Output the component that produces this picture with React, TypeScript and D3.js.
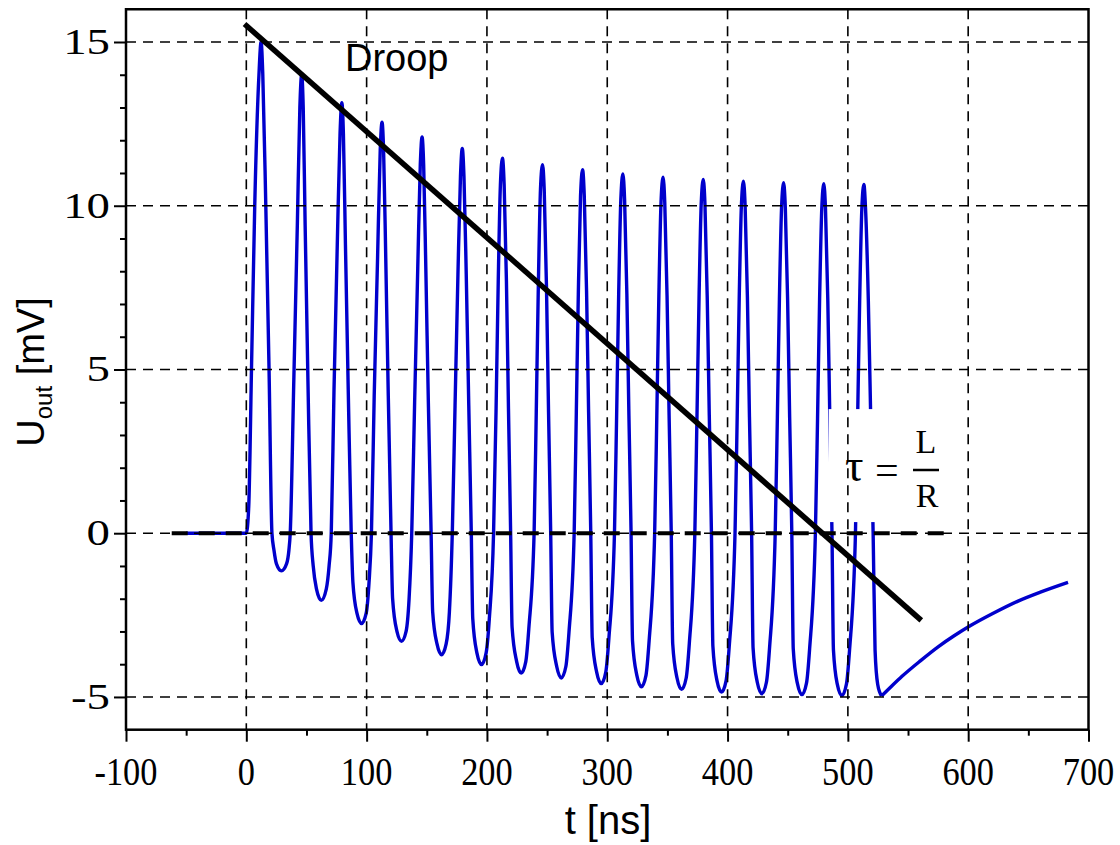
import React, { useRef, useEffect } from "react";
import * as d3 from "d3";

type Pt = [number, number];

const W = 1120, H = 845;

// axis ticks
const xTicks = [-100, 0, 100, 200, 300, 400, 500, 600, 700];
const xMinor = [-50, 50, 150, 250, 350, 450, 550, 650];
const yTicks = [-5, 0, 5, 10, 15];
const yMinor = [-4, -3, -2, -1, 1, 2, 3, 4, 6, 7, 8, 9, 11, 12, 13, 14];
const gridX = [0, 100, 200, 300, 400, 500, 600];
const gridY = [-5, 0, 5, 10, 15];

// U_out [mV] vs t [ns] (one row per pulse + following trough)
const baseline: Pt[] = [[-50, 0], [-25, 0], [0, 0]];
const pulseTrain: Pt[][] = [
  [[2.0, 0.8], [4.3, 5.0], [7.0, 10.0], [10.5, 14.0], [12.3, 15.0], [13.7, 14.0], [16.2, 10.0], [18.9, 5.0], [21.3, 0], [23.0, -0.52], [25.0, -0.93], [29.2, -1.15], [33.5, -0.93], [35.4, -0.52]],
  [[36.5, 0], [39.5, 4.7], [42.4, 9.4], [44.5, 13.0], [46.0, 14.0], [47.3, 13.0], [48.9, 9.4], [51.2, 4.7], [53.8, 0], [55.6, -1.0], [58.3, -1.7], [62.3, -2.05], [66.5, -1.7], [68.8, -1.0]],
  [[70.6, 0], [72.9, 4.4], [75.6, 8.8], [77.9, 12.2], [79.4, 13.15], [80.7, 12.2], [82.4, 8.8], [84.7, 4.4], [87.2, 0], [88.6, -1.5], [92.0, -2.45], [95.8, -2.76], [99.6, -2.45], [102.0, -1.5]],
  [[104.0, 0], [106.3, 4.2], [109.1, 8.4], [111.3, 11.7], [112.8, 12.55], [114.1, 11.7], [115.9, 8.4], [118.0, 4.2], [120.3, 0], [121.6, -2.0], [125.2, -3.0], [129.0, -3.3], [132.8, -3.0], [135.3, -2.0]],
  [[137.5, 0], [139.9, 4.0], [142.5, 8.1], [144.6, 11.25], [146.1, 12.1], [147.4, 11.25], [149.2, 8.1], [151.3, 4.0], [153.6, 0], [154.9, -2.4], [158.5, -3.38], [162.3, -3.71], [166.1, -3.38], [168.8, -2.4]],
  [[171.2, 0], [173.5, 3.9], [175.9, 7.9], [178.0, 10.9], [179.5, 11.75], [180.9, 10.9], [182.8, 7.9], [184.9, 3.9], [187.0, 0], [188.2, -2.6], [191.7, -3.66], [195.5, -4.01], [199.3, -3.66], [202.0, -2.6]],
  [[205.5, 0], [207.6, 3.8], [209.4, 7.7], [211.2, 10.65], [212.9, 11.45], [214.3, 10.65], [216.2, 7.7], [217.9, 3.8], [219.7, 0], [220.9, -2.87], [224.7, -3.92], [228.5, -4.27], [232.3, -3.92], [234.9, -2.87]],
  [[239.2, 0], [241.0, 3.7], [242.7, 7.5], [244.5, 10.5], [246.2, 11.25], [247.6, 10.5], [249.5, 7.5], [251.2, 3.7], [253.0, 0], [254.2, -3.02], [258.0, -4.07], [261.8, -4.42], [265.6, -4.07], [268.2, -3.02]],
  [[272.5, 0], [274.3, 3.7], [276.0, 7.4], [277.8, 10.3], [279.5, 11.1], [280.9, 10.3], [282.8, 7.4], [284.5, 3.7], [286.3, 0], [287.5, -3.19], [291.2, -4.24], [295.0, -4.59], [298.8, -4.24], [301.4, -3.19]],
  [[306.0, 0], [307.8, 3.6], [309.5, 7.3], [311.3, 10.2], [313.0, 10.97], [314.4, 10.2], [316.3, 7.3], [318.0, 3.6], [319.8, 0], [321.0, -3.29], [324.6, -4.34], [328.4, -4.69], [332.2, -4.34], [334.8, -3.29]],
  [[339.4, 0], [341.2, 3.6], [342.9, 7.25], [344.7, 10.1], [346.4, 10.87], [347.8, 10.1], [349.7, 7.25], [351.4, 3.6], [353.2, 0], [354.4, -3.37], [358.0, -4.42], [361.8, -4.77], [365.6, -4.42], [368.2, -3.37]],
  [[372.8, 0], [374.6, 3.6], [376.3, 7.2], [378.1, 10.05], [379.8, 10.8], [381.2, 10.05], [383.1, 7.2], [384.8, 3.6], [386.6, 0], [387.8, -3.45], [391.2, -4.5], [395.0, -4.85], [398.8, -4.5], [401.4, -3.45]],
  [[406.2, 0], [408.0, 3.55], [409.7, 7.2], [411.5, 10.0], [413.2, 10.75], [414.6, 10.0], [416.5, 7.2], [418.2, 3.55], [420.0, 0], [421.2, -3.5], [424.7, -4.55], [428.5, -4.9], [432.3, -4.55], [434.9, -3.5]],
  [[439.6, 0], [441.4, 3.55], [443.1, 7.15], [444.9, 9.95], [446.6, 10.7], [448.0, 9.95], [449.9, 7.15], [451.6, 3.55], [453.4, 0], [454.6, -3.53], [458.0, -4.58], [461.8, -4.93], [465.6, -4.58], [468.2, -3.53]],
  [[473.0, 0], [474.8, 3.5], [476.5, 7.15], [478.3, 9.9], [480.0, 10.67], [481.4, 9.9], [483.3, 7.15], [485.0, 3.5], [486.8, 0], [488.0, -3.56], [491.2, -4.61], [495.0, -4.96], [498.8, -4.61], [501.4, -3.56]],
  [[506.3, 0], [508.1, 3.5], [509.8, 7.1], [511.6, 9.9], [513.3, 10.65], [514.7, 9.9], [517.0, 7.1], [519.0, 3.5], [521.0, 0], [522.6, -3.57], [524.8, -4.62], [528.0, -4.97]],
];
// tail after the last pulse, starts at the last trough
const recovery: Pt[] = [[528.0, -4.97], [535, -4.72], [545, -4.37], [560.5, -3.89], [575, -3.47], [588, -3.14], [602, -2.82], [620, -2.46], [641, -2.08], [660, -1.8], [683, -1.5]];

// droop line and zero reference
const droopT = [-1.5, 561];
const droopU = [15.55, -2.66];
const zeroLineT = [-62, 587];

// white label box behind tau = L/R (data coords)
const labelBoxT = [484, 590];
const labelBoxU = [0.34, 3.79];
const droopLabel: Pt = [82, 14.1];

export default function App() {
  const ref = useRef<SVGSVGElement>(null);

  useEffect(() => {
    const svg = d3.select(ref.current);
    svg.selectAll("*").remove();

    const x = d3.scaleLinear().domain([-100, 700]).range([126, 1088.5]);
    const y = d3.scaleLinear().domain([-6, 16]).range([729.7, 9.25]);

    const pulses: Pt[] = [...baseline, ...pulseTrain.flat()];
    const line = d3.line<Pt>().x(d => x(d[0])).y(d => y(d[1])).curve(d3.curveMonotoneX);

    svg.append("rect").attr("width", W).attr("height", H).attr("fill", "#fff");

    // signal (two pieces so the corner at the last trough stays sharp)
    [pulses, recovery].forEach(seg => {
      svg.append("path")
        .attr("d", line(seg))
        .attr("fill", "none")
        .attr("stroke", "#0000cc")
        .attr("stroke-width", 3.4)
        .attr("stroke-linejoin", "round");
    });

    // label background
    svg.append("rect")
      .attr("x", x(labelBoxT[0]))
      .attr("y", y(labelBoxU[1]))
      .attr("width", x(labelBoxT[1]) - x(labelBoxT[0]))
      .attr("height", y(labelBoxU[0]) - y(labelBoxU[1]))
      .attr("fill", "#fff");

    // grid
    const grid = svg.append("g").attr("stroke", "#000").attr("stroke-width", 1.6).attr("stroke-dasharray", "10,7");
    gridX.forEach(v => {
      grid.append("line").attr("x1", x(v)).attr("x2", x(v)).attr("y1", y(16)).attr("y2", y(-6));
    });
    gridY.forEach(v => {
      grid.append("line").attr("x1", x(-100)).attr("x2", x(700)).attr("y1", y(v)).attr("y2", y(v));
    });

    // zero reference, thick dashed
    svg.append("line")
      .attr("x1", x(zeroLineT[0])).attr("x2", x(zeroLineT[1]))
      .attr("y1", y(0)).attr("y2", y(0))
      .attr("stroke", "#000").attr("stroke-width", 4).attr("stroke-dasharray", "16,11");

    // droop
    svg.append("line")
      .attr("x1", x(droopT[0])).attr("y1", y(droopU[0]))
      .attr("x2", x(droopT[1])).attr("y2", y(droopU[1]))
      .attr("stroke", "#000").attr("stroke-width", 5.5);

    // frame
    svg.append("rect")
      .attr("x", x(-100)).attr("y", y(16))
      .attr("width", x(700) - x(-100)).attr("height", y(-6) - y(16))
      .attr("fill", "none").attr("stroke", "#000").attr("stroke-width", 2.5);

    const serif = "'Liberation Serif', 'Times New Roman', serif";
    const sans = "'Liberation Sans', Arial, sans-serif";

    // x axis
    const xAxis = svg.append("g").attr("transform", `translate(0,${y(-6)})`);
    xAxis.call(d3.axisBottom(x).tickValues(xTicks).tickSize(12).tickFormat(() => ""));
    xAxis.append("g").call(d3.axisBottom(x).tickValues(xMinor).tickSize(6).tickFormat(() => ""));
    xAxis.selectAll(".domain").remove();
    xAxis.selectAll("line").attr("stroke", "#000").attr("stroke-width", 2);
    xTicks.forEach(v => {
      xAxis.append("text")
        .attr("transform", `translate(${x(v)},55) scale(0.86,1)`)
        .attr("text-anchor", "middle")
        .attr("fill", "#000")
        .style("font-family", serif)
        .style("font-size", "40px")
        .text(String(v));
    });

    // y axis
    const yAxis = svg.append("g").attr("transform", `translate(${x(-100)},0)`);
    yAxis.call(d3.axisLeft(y).tickValues(yTicks).tickSize(12).tickFormat(() => ""));
    yAxis.append("g").call(d3.axisLeft(y).tickValues(yMinor).tickSize(6).tickFormat(() => ""));
    yAxis.selectAll(".domain").remove();
    yAxis.selectAll("line").attr("stroke", "#000").attr("stroke-width", 2);
    yTicks.forEach(v => {
      yAxis.append("text")
        .attr("transform", `translate(-16,${y(v) + 12}) scale(1.3,1)`)
        .attr("text-anchor", "end")
        .attr("fill", "#000")
        .style("font-family", serif)
        .style("font-size", "36px")
        .text(String(v));
    });

    // axis titles
    svg.append("text")
      .attr("x", 608).attr("y", 834)
      .attr("text-anchor", "middle")
      .style("font-family", sans).style("font-size", "40px")
      .text("t [ns]");

    const yt = svg.append("text")
      .attr("transform", "translate(44,372) rotate(-90)")
      .attr("text-anchor", "middle")
      .style("font-family", sans).style("font-size", "38px");
    yt.append("tspan").text("U");
    yt.append("tspan").attr("dy", 8).style("font-size", "24px").text("out");
    yt.append("tspan").attr("dy", -8).text(" [mV]");

    // annotations
    svg.append("text")
      .attr("x", x(droopLabel[0])).attr("y", y(droopLabel[1]))
      .style("font-family", sans).style("font-size", "38px")
      .text("Droop");

    const tau = svg.append("g").style("font-family", serif);
    tau.append("text").attr("x", 845).attr("y", 481).style("font-size", "46px").text("τ");
    tau.append("text").attr("x", 875).attr("y", 484).style("font-size", "42px").text("=");
    tau.append("text").attr("x", 926).attr("y", 453).attr("text-anchor", "middle").style("font-size", "34px").text("L");
    tau.append("line").attr("x1", 913).attr("x2", 939).attr("y1", 470).attr("y2", 470).attr("stroke", "#000").attr("stroke-width", 2.5);
    tau.append("text").attr("x", 927).attr("y", 507).attr("text-anchor", "middle").style("font-size", "34px").text("R");
  }, []);

  return (
    <div style={{ position: "absolute", left: 0, top: 0 }}>
      <svg ref={ref} width={W} height={H} style={{ display: "block" }} />
    </div>
  );
}
